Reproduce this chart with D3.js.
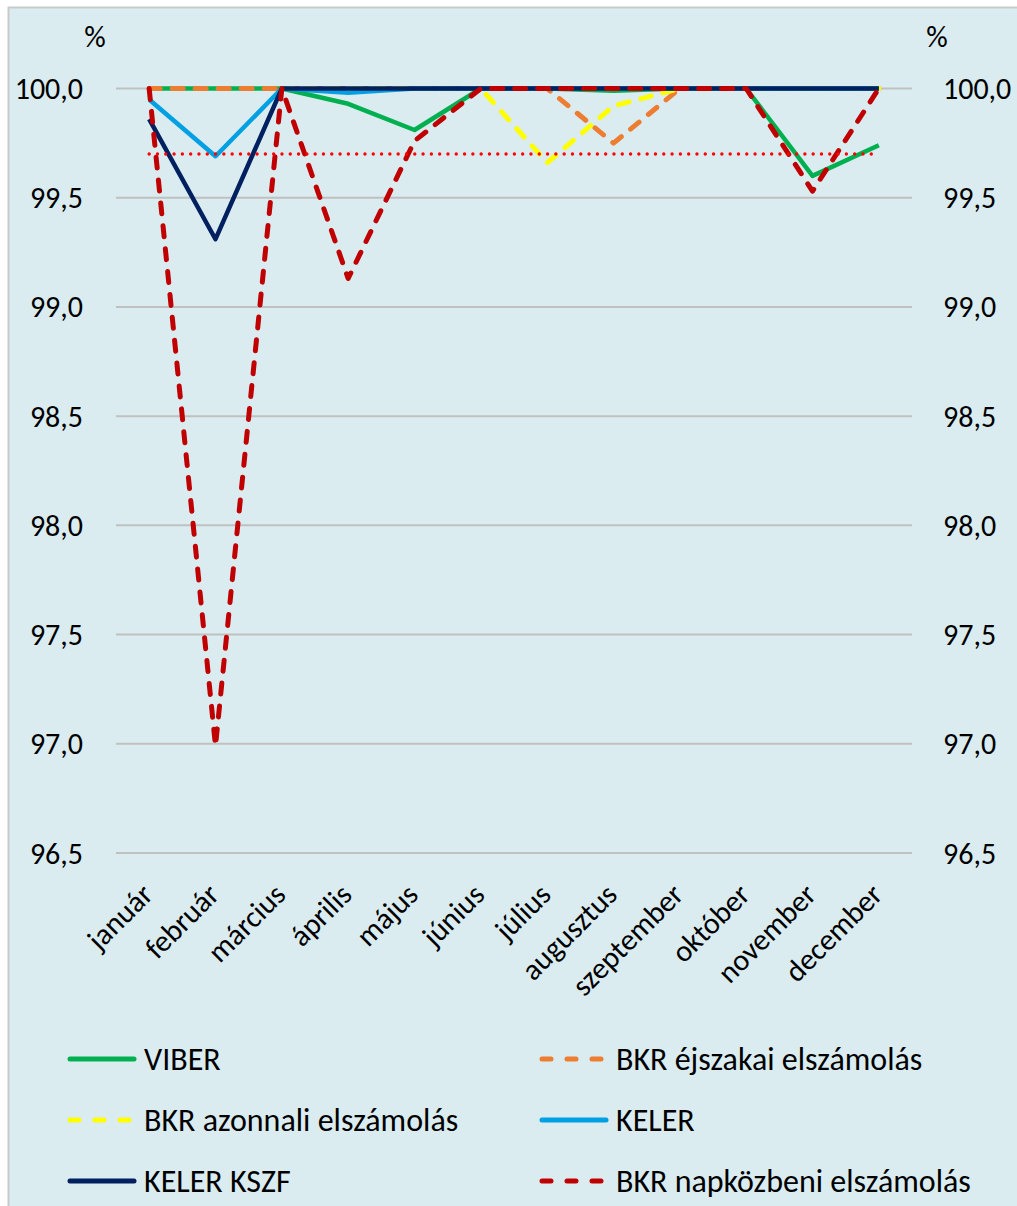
<!DOCTYPE html>
<html>
<head>
<meta charset="utf-8">
<script src="https://cdn.jsdelivr.net/npm/d3@7"></script>
<style>
  body { margin: 0; background: #fff; }
  svg { display: block; }
</style>
</head>
<body>
<div id="chart"></div>
<script>
// months and series (percent)
var months = ["január","február","március","április","május","június","július","augusztus","szeptember","október","november","december"];
var viber         = [100, 100, 100, 99.93, 99.81, 100, 100, 99.99, 100, 100, 99.60, 99.74];
var bkrEjszakai   = [100, 100, 100, 100, 100, 100, 100, 99.75, 100, 100, 100, 100];
var bkrAzonnali   = [null, null, 100, 100, 100, 100, 99.66, 99.92, 100, 100, 100, 100];
var keler         = [99.95, 99.69, 100, 99.98, 100, 100, 100, 100, 100, 100, 100, 100];
var kelerKszf     = [99.86, 99.31, 100, 100, 100, 100, 100, 100, 100, 100, 100, 100];
var bkrNapkozbeni = [100, 96.99, 100, 99.13, 99.76, 100, 100, 100, 100, 100, 99.53, 100];
var targetLevel = 99.7;
var yTicks = [96.5, 97, 97.5, 98, 98.5, 99, 99.5, 100];

var width = 1017, height = 1206;
var font = "Carlito, Lato, sans-serif";

var series = [
  {name: "VIBER", values: viber, color: "#00b050", dash: null},
  {name: "BKR éjszakai elszámolás", values: bkrEjszakai, color: "#ed7d31", dash: "11,12"},
  {name: "BKR azonnali elszámolás", values: bkrAzonnali, color: "#ffff00", dash: "11,12"},
  {name: "KELER", values: keler, color: "#00a0e3", dash: null},
  {name: "KELER KSZF", values: kelerKszf, color: "#002060", dash: null},
  {name: "BKR napközbeni elszámolás", values: bkrNapkozbeni, color: "#c00000", dash: "11,12"}
];

var svg = d3.select("#chart").append("svg")
  .attr("width", width)
  .attr("height", height);

svg.append("rect")
  .attr("x", 8.5).attr("y", 7.5)
  .attr("width", 1030).attr("height", 1220)
  .attr("fill", "#daecf0")
  .attr("stroke", "#c9c9c9")
  .attr("stroke-width", 2);

var x = d3.scalePoint().domain(months).range([116, 912]).padding(0.5);
var y = d3.scaleLinear().domain([96.5, 100]).range([853, 88.5]);

// gridlines
svg.append("g")
  .selectAll("line")
  .data(yTicks)
  .join("line")
    .attr("x1", 116).attr("x2", 912)
    .attr("y1", d => y(d)).attr("y2", d => y(d))
    .attr("stroke", "#c0c0c0")
    .attr("stroke-width", 2);

var fmt = d => d.toFixed(1).replace(".", ",");

// left and right tick labels
svg.append("g")
  .selectAll("text")
  .data(yTicks)
  .join("text")
    .attr("x", 83).attr("y", d => y(d))
    .attr("dy", "0.35em")
    .attr("text-anchor", "end")
    .attr("font-family", font).attr("font-size", 30)
    .text(fmt);

svg.append("g")
  .selectAll("text")
  .data(yTicks)
  .join("text")
    .attr("x", 943).attr("y", d => y(d))
    .attr("dy", "0.35em")
    .attr("text-anchor", "start")
    .attr("font-family", font).attr("font-size", 30)
    .text(fmt);

svg.append("text").attr("x", 95).attr("y", 36).attr("dy", "0.35em")
  .attr("text-anchor", "middle").attr("font-family", font).attr("font-size", 30).text("%");
svg.append("text").attr("x", 937).attr("y", 36).attr("dy", "0.35em")
  .attr("text-anchor", "middle").attr("font-family", font).attr("font-size", 30).text("%");

// month labels
svg.append("g")
  .selectAll("text")
  .data(months)
  .join("text")
    .attr("transform", d => "translate(" + (x(d) - 2) + ",889) rotate(-45)")
    .attr("text-anchor", "end")
    .attr("dy", "0.35em")
    .attr("font-family", font).attr("font-size", 30)
    .text(d => d);

// series lines
var line = d3.line()
  .defined(d => d.v != null)
  .x(d => x(d.m))
  .y(d => y(d.v));

svg.append("g")
  .selectAll("path")
  .data(series)
  .join("path")
    .attr("fill", "none")
    .attr("stroke", d => d.color)
    .attr("stroke-width", d => d.dash ? 5 : 4.5)
    .attr("stroke-linecap", d => d.dash ? "round" : "butt")
    .attr("stroke-linejoin", "round")
    .attr("stroke-dasharray", d => d.dash)
    .attr("d", d => line(d.values.map((v, i) => ({m: months[i], v: v}))));

// target level, dotted
svg.append("line")
  .attr("x1", x(months[0])).attr("x2", x(months[months.length - 1]))
  .attr("y1", y(targetLevel)).attr("y2", y(targetLevel))
  .attr("stroke", "#ff0000")
  .attr("stroke-width", 3.4)
  .attr("stroke-linecap", "round")
  .attr("stroke-dasharray", "0,8.3");

// legend: left column then right column, row by row
var legend = svg.append("g")
  .selectAll("g")
  .data(series)
  .join("g")
    .attr("transform", (d, i) => "translate(" + (i % 2 ? 540 : 68) + "," + (1059 + Math.floor(i / 2) * 61) + ")");

legend.append("line")
  .attr("x1", 2).attr("x2", 66)
  .attr("stroke", d => d.color)
  .attr("stroke-width", 5)
  .attr("stroke-linecap", "round")
  .attr("stroke-dasharray", d => d.dash ? "9,16" : null);

legend.append("text")
  .attr("x", 76)
  .attr("dy", "0.35em")
  .attr("font-family", font).attr("font-size", 32)
  .text(d => d.name);
</script>
</body>
</html>
